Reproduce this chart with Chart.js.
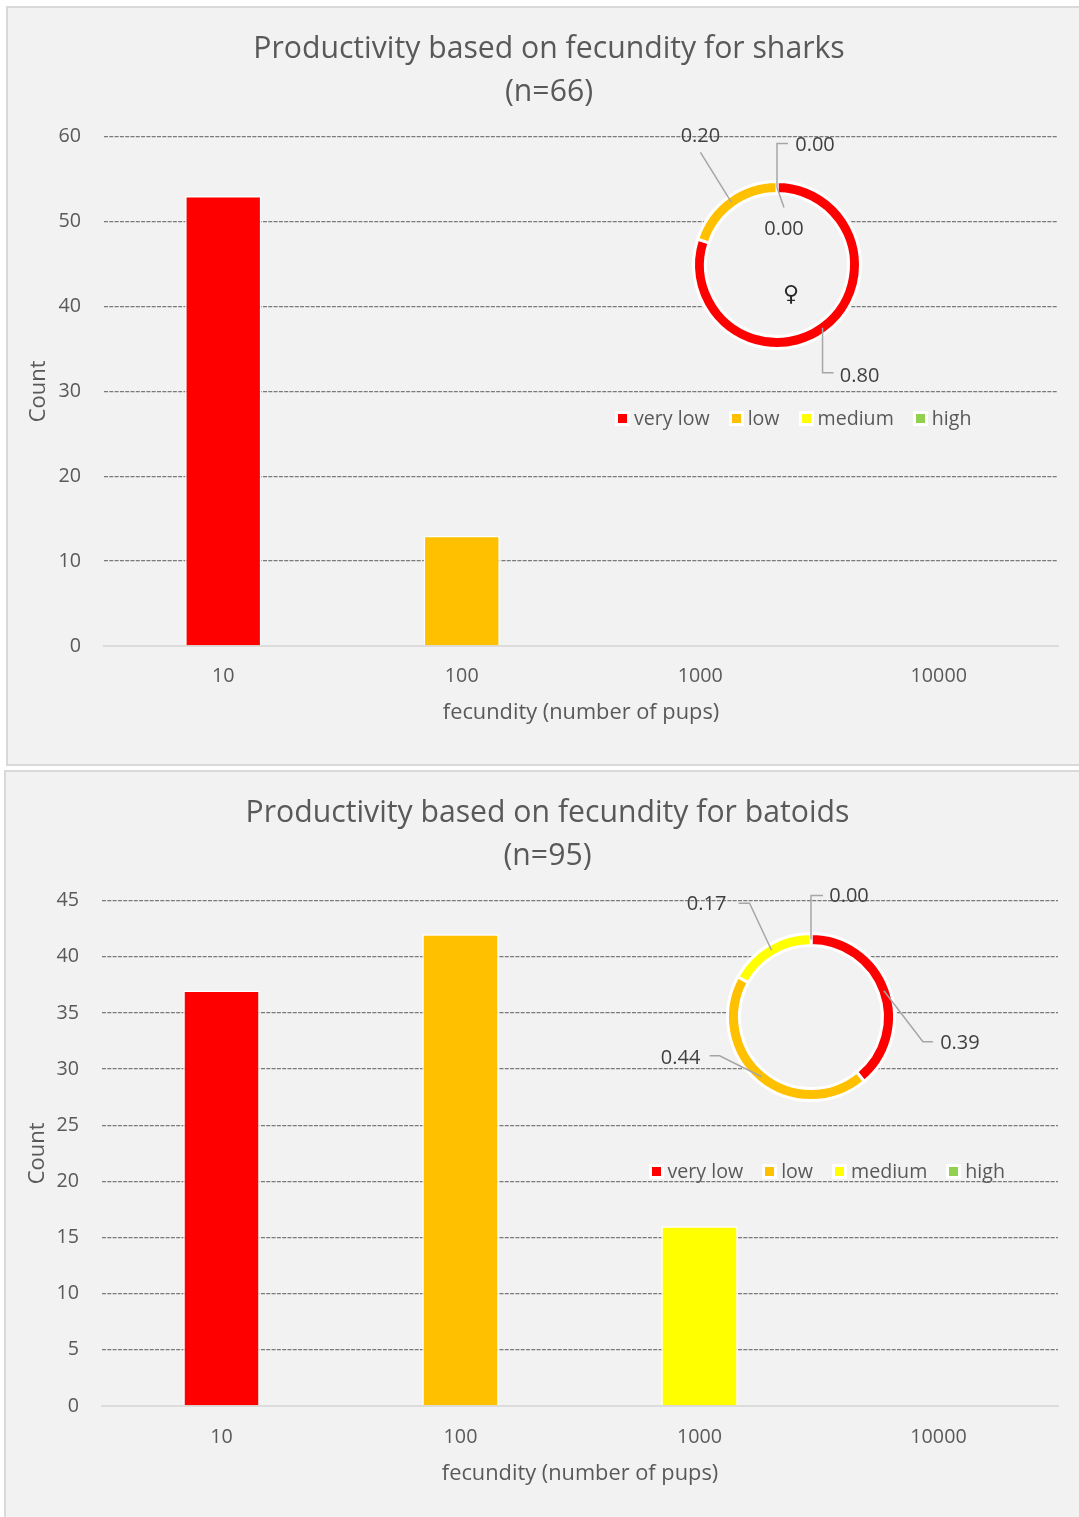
<!DOCTYPE html>
<html>
<head>
<meta charset="utf-8">
<title>Productivity based on fecundity</title>
<script src="https://cdn.jsdelivr.net/npm/chart.js@4"></script>
<style>
    html, body { margin: 0; padding: 0; background: #fff; overflow: hidden; }
    body { width: 1079px; height: 1517px; position: relative; font-family: "Open Sans", sans-serif; }
    .panel { position: absolute; box-sizing: border-box; border: 2px solid #d9d9d9; background: #f2f2f2; overflow: hidden; }
    #panelSharks { left: 6px; top: 6px; width: 1090px; height: 760px; }
    #panelBatoids { left: 4px; top: 770px; width: 1090px; height: 760px; }
    .panel canvas { position: absolute; }
    .legend { position: absolute; display: flex; align-items: center; font-size: 19.6px; line-height: 24px; color: #595959; white-space: nowrap; }
    .legend span.item { display: flex; align-items: center; margin-right: 19px; }
    .legend span.box { display: block; width: 9px; height: 9px; border: 3px solid #fff; margin-right: 4px; }
    .symbol { position: absolute; font-family: "DejaVu Sans", sans-serif; font-size: 22px; line-height: 24px; color: #262626; }
</style>
</head>
<body>

<div class="panel" id="panelSharks">
    <canvas id="barSharks"></canvas>
    <canvas id="ringSharks"></canvas>
    <div class="legend" id="legendSharks" style="left:607px; top:398px;"></div>
    <div class="symbol" style="left:775px; top:274px;">♀</div>
</div>

<div class="panel" id="panelBatoids">
    <canvas id="barBatoids"></canvas>
    <canvas id="ringBatoids"></canvas>
    <div class="legend" id="legendBatoids" style="left:642.5px; top:387px;"></div>
</div>

<script>
// DATA
const fecundityLabels = ['10', '100', '1000', '10000'];
const productivityLevels = ['very low', 'low', 'medium', 'high'];
const levelColors = ['#ff0000', '#ffc000', '#ffff00', '#92d050'];

const sharkTitle = ['Productivity based on fecundity for sharks', '(n=66)'];
const sharkCounts = [53, 13, 0, 0];
const sharkShares = [0.80, 0.20, 0.00, 0.00];

const batoidTitle = ['Productivity based on fecundity for batoids', '(n=95)'];
const batoidCounts = [37, 42, 16, 0];
const batoidShares = [0.39, 0.44, 0.17, 0.00];

const textColor = '#595959';
const panelColor = '#f2f2f2';
const fontName = '"Open Sans", sans-serif';

Chart.defaults.animation = false;
Chart.defaults.responsive = false;
Chart.defaults.font.family = fontName;

// leader lines are [dx, dy] from the middle of the slice, text is where the value goes
const sharkLeaders = [
    { line: [[0, 45], [11, 45]], text: [37, 49] },
    { line: [[-31, -50]], text: [-31, -66] },
    { line: [[7, 20]], text: [7, 42] },
    { line: [[0, -44], [11, -44]], text: [38, -42] }
];
const batoidLeaders = [
    { line: [[39, 51], [49, 51]], text: [76, 53] },
    { line: [[-42, -21], [-52, -21]], text: [-81, -18] },
    { line: [[-22, -47], [-33, -47]], text: [-65, -46] },
    { line: [[0, -44], [12, -44]], text: [38, -43] }
];

// fills the hole of the ring so the grid lines don't show through
const ringHole = {
    id: 'ringHole',
    beforeDatasetsDraw(chart) {
        const arc = chart.getDatasetMeta(0).data[0];
        const ctx = chart.ctx;
        ctx.save();
        ctx.fillStyle = panelColor;
        ctx.beginPath();
        ctx.arc(arc.x, arc.y, arc.innerRadius, 0, Math.PI * 2);
        ctx.fill();
        ctx.restore();
    }
};

// value labels with their grey leader lines
const ringLabels = {
    id: 'ringLabels',
    afterDraw(chart, args, opts) {
        const ctx = chart.ctx;
        const values = chart.data.datasets[0].data;
        chart.getDatasetMeta(0).data.forEach((arc, i) => {
            const mid = (arc.startAngle + arc.endAngle) / 2;
            const r = (arc.innerRadius + arc.outerRadius) / 2;
            const px = arc.x + Math.cos(mid) * r;
            const py = arc.y + Math.sin(mid) * r;
            const leader = opts.leaders[i];

            ctx.save();
            ctx.strokeStyle = '#a6a6a6';
            ctx.lineWidth = 1.5;
            ctx.beginPath();
            ctx.moveTo(px, py);
            leader.line.forEach(p => ctx.lineTo(px + p[0], py + p[1]));
            ctx.stroke();

            ctx.fillStyle = '#404040';
            ctx.font = '20px ' + fontName;
            ctx.textAlign = 'center';
            ctx.textBaseline = 'middle';
            ctx.fillText(values[i].toFixed(2), px + leader.text[0], py + leader.text[1]);
            ctx.restore();
        });
    }
};

function drawBars(canvasId, title, counts, yMax, yStep, size, spots) {
    const canvas = document.getElementById(canvasId);
    canvas.width = size.width;
    canvas.height = size.height;
    canvas.style.left = '0px';
    canvas.style.top = '0px';

    new Chart(canvas, {
        type: 'bar',
        data: {
            labels: fecundityLabels,
            datasets: [{
                data: counts,
                backgroundColor: levelColors,
                borderColor: '#ffffff',
                borderWidth: ctx => ctx.raw > 0 ? 1.5 : 0,
                barPercentage: 0.32,
                categoryPercentage: 1
            }]
        },
        options: {
            layout: { padding: { left: spots.left, right: spots.right } },
            plugins: {
                legend: { display: false },
                tooltip: { enabled: false },
                title: {
                    display: true,
                    text: title,
                    color: textColor,
                    font: { size: 30.2, weight: 'normal', lineHeight: 1.433 },
                    padding: { top: 19.5, bottom: 22.6 }
                }
            },
            scales: {
                x: {
                    grid: { display: false },
                    border: { color: '#dcdcdc', width: 2 },
                    ticks: { color: textColor, font: { size: 19.7 }, padding: spots.tickGap, maxRotation: 0 },
                    title: {
                        display: true,
                        text: 'fecundity (number of pups)',
                        color: textColor,
                        font: { size: 21.8 },
                        padding: { top: 0, bottom: spots.titleGap }
                    },
                    afterFit(scale) { scale.height = spots.xHeight; }
                },
                y: {
                    min: 0,
                    max: yMax,
                    grid: {
                        color: ctx => ctx.tick.value === 0 ? 'transparent' : '#7a7a7a',
                        lineWidth: 1.3,
                        drawTicks: false
                    },
                    border: { display: false, dash: [4, 1.3] },
                    ticks: { stepSize: yStep, color: textColor, font: { size: 19.7 }, padding: 23 },
                    title: {
                        display: true,
                        text: 'Count',
                        color: textColor,
                        font: { size: 22 },
                        padding: { top: spots.countGap, bottom: 0 }
                    },
                    afterFit(scale) { scale.width = spots.yWidth; }
                }
            }
        }
    });
}

function drawRing(canvasId, shares, leaders, left, top) {
    const canvas = document.getElementById(canvasId);
    canvas.width = 400;
    canvas.height = 320;
    canvas.style.left = left + 'px';
    canvas.style.top = top + 'px';

    new Chart(canvas, {
        type: 'doughnut',
        data: {
            labels: productivityLevels,
            datasets: [{
                data: shares,
                backgroundColor: levelColors,
                borderColor: '#ffffff',
                borderWidth: 3
            }]
        },
        options: {
            radius: 83.5,
            cutout: '85.6%',
            plugins: {
                legend: { display: false },
                tooltip: { enabled: false },
                ringLabels: { leaders: leaders }
            }
        },
        plugins: [ringHole, ringLabels]
    });
}

function drawLegend(elementId) {
    const holder = document.getElementById(elementId);
    productivityLevels.forEach((level, i) => {
        const item = document.createElement('span');
        item.className = 'item';
        const box = document.createElement('span');
        box.className = 'box';
        box.style.background = levelColors[i];
        item.appendChild(box);
        item.appendChild(document.createTextNode(level));
        holder.appendChild(item);
    });
}

drawBars('barSharks', sharkTitle, sharkCounts, 60, 10,
    { width: 1082, height: 756 },
    { left: 32, right: 32, yWidth: 64, xHeight: 118, tickGap: 11, titleGap: 38, countGap: -14 });
drawRing('ringSharks', sharkShares, sharkLeaders, 569, 97);
drawLegend('legendSharks');

drawBars('barBatoids', batoidTitle, batoidCounts, 45, 5,
    { width: 1083, height: 745 },
    { left: 31, right: 31, yWidth: 65, xHeight: 111, tickGap: 12, titleGap: 30, countGap: -12 });
drawRing('ringBatoids', batoidShares, batoidLeaders, 605, 85);
drawLegend('legendBatoids');
</script>
</body>
</html>
